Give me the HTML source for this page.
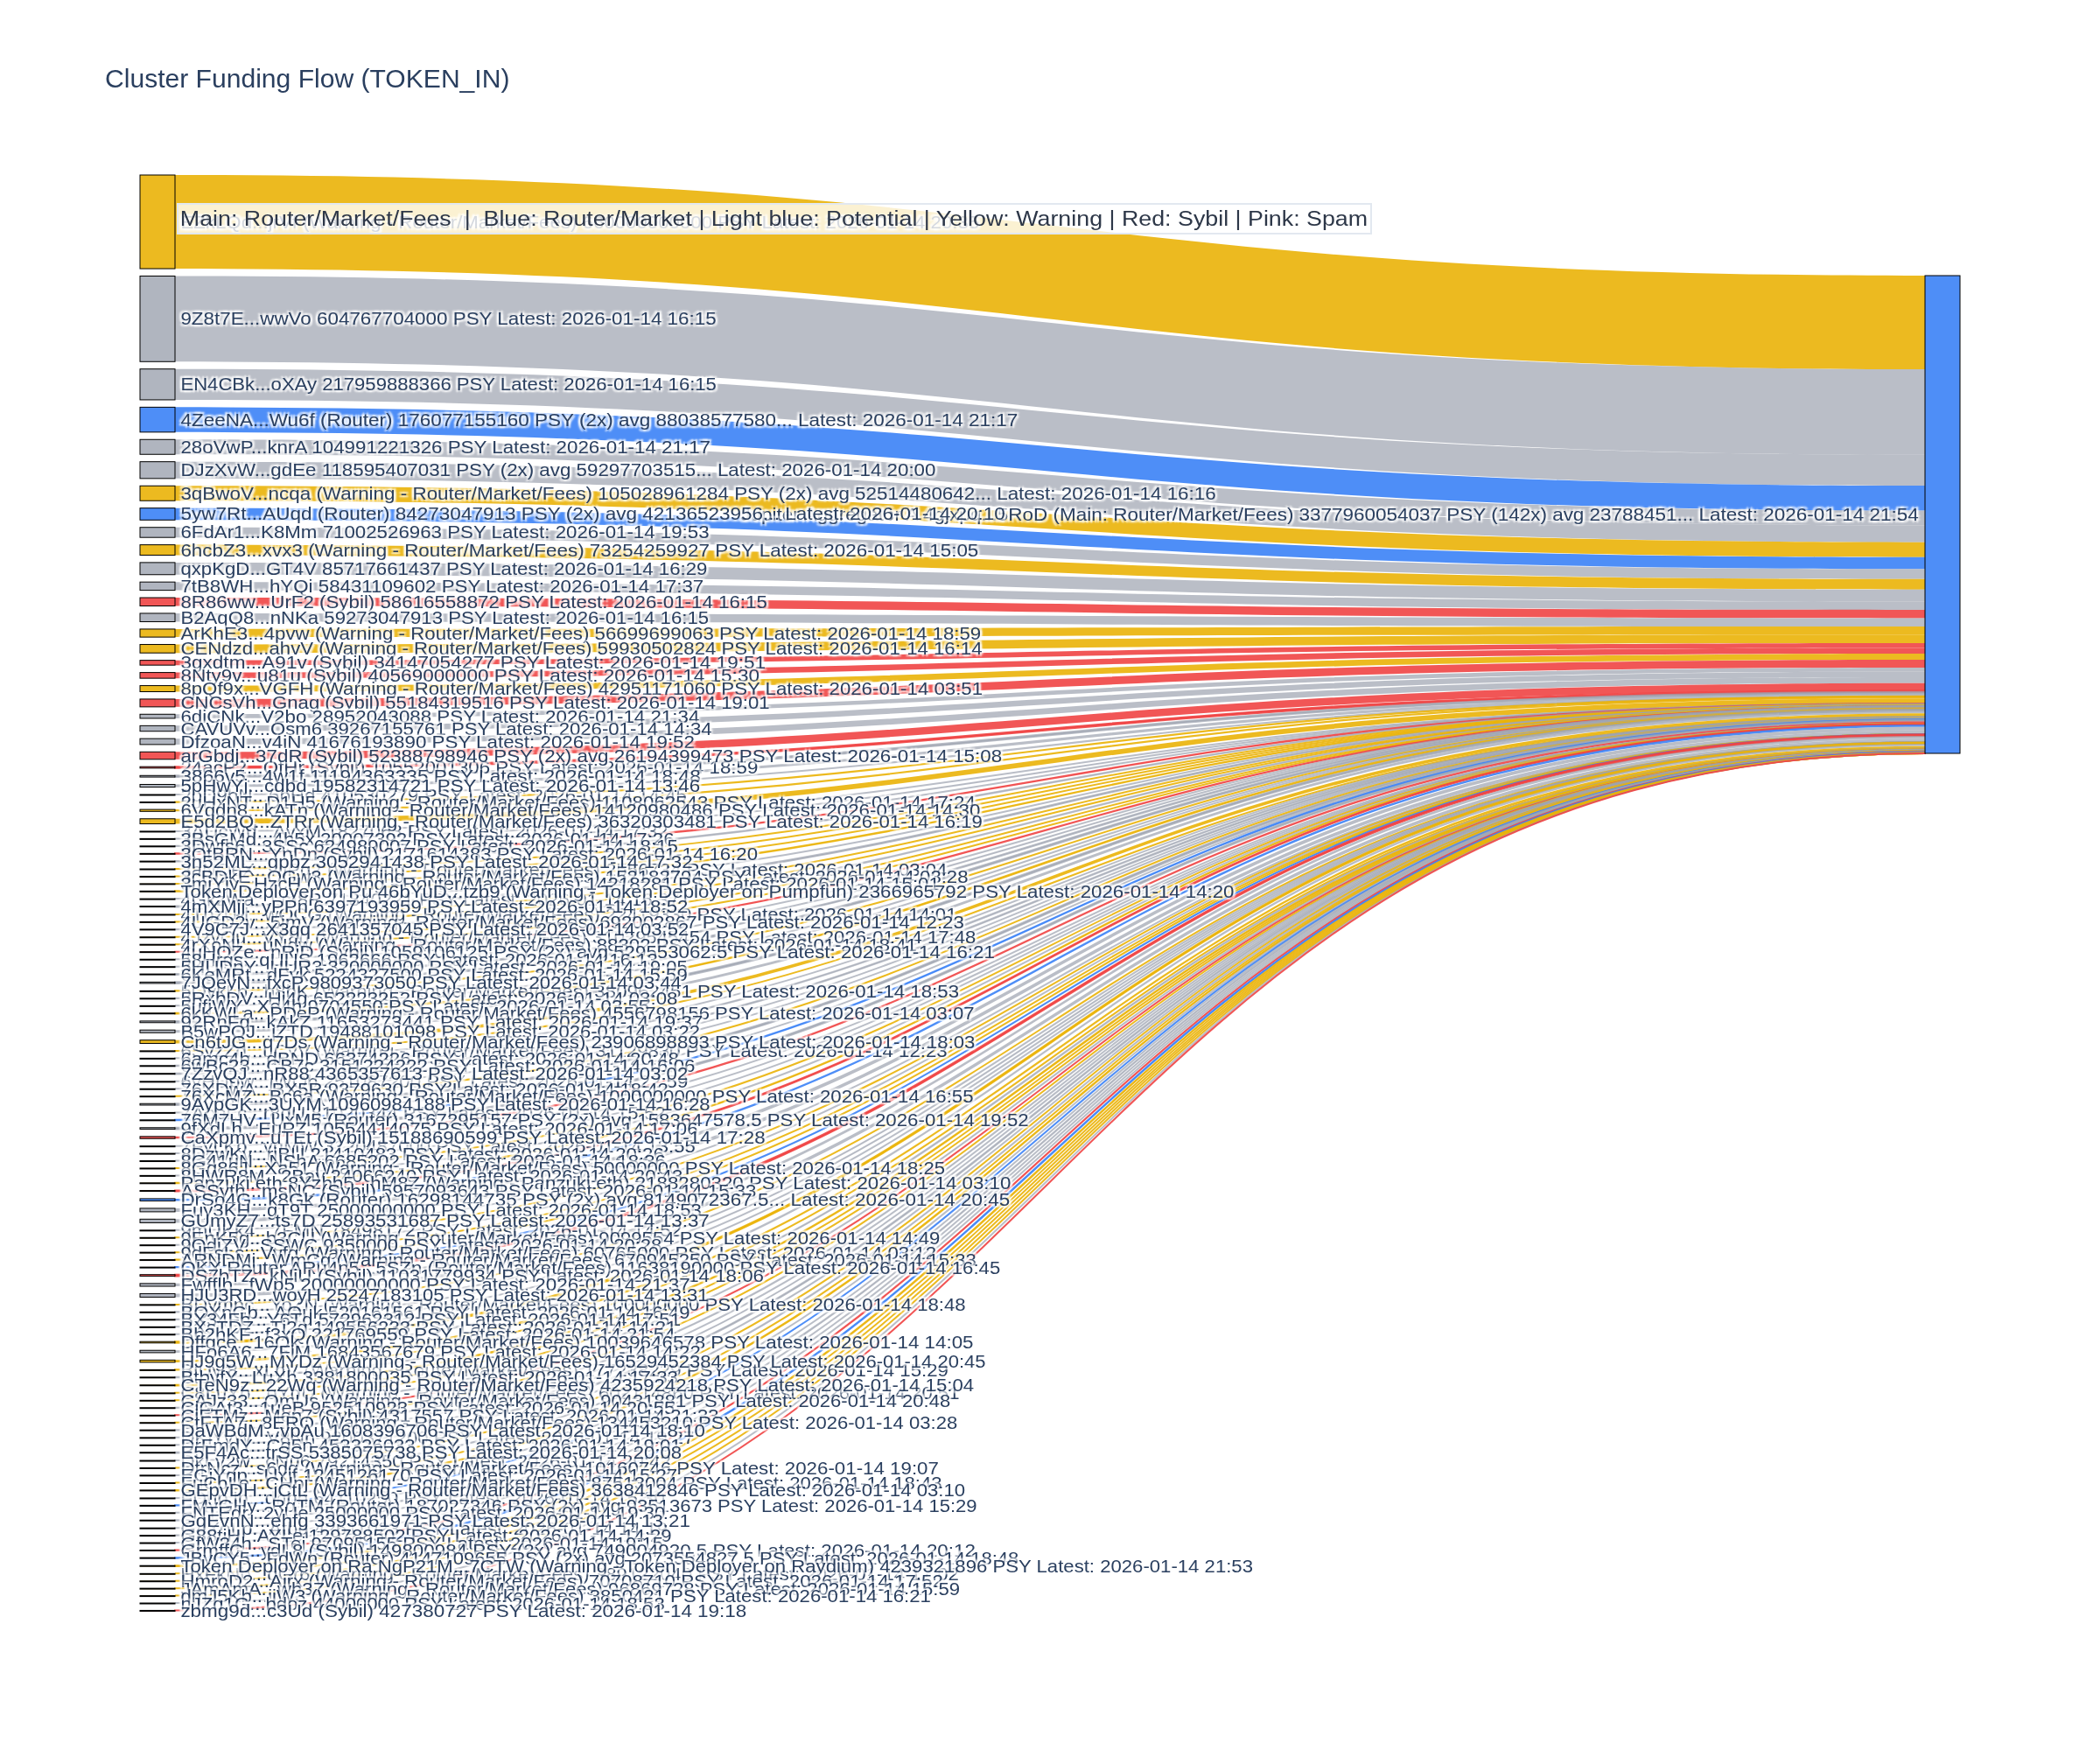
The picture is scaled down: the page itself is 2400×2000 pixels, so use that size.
<!DOCTYPE html>
<html><head><meta charset="utf-8"><title>Cluster Funding Flow</title>
<style>
html,body{margin:0;padding:0;background:#fff}
svg{display:block;will-change:transform}
text{font-family:"Liberation Sans",sans-serif;white-space:pre}
.nl{font-size:20.3px;fill:#2a3f5f;text-shadow:2px 2px 2px #fff,-2px -2px 2px #fff,2px -2px 2px #fff,-2px 2px 2px #fff}
rect{stroke:#000;stroke-width:1}
.nW{fill:rgba(234,179,8,0.9)}
.lW{fill:rgba(234,179,8,0.9)}
.lW.t{stroke:rgba(234,179,8,0.9);stroke-width:2}
.nN{fill:rgba(156,163,175,0.8)}
.lN{fill:rgba(156,163,175,0.7)}
.lN.t{stroke:rgba(156,163,175,0.7);stroke-width:2}
.nR{fill:rgba(59,130,246,0.9)}
.lR{fill:rgba(59,130,246,0.9)}
.lR.t{stroke:rgba(59,130,246,0.9);stroke-width:2}
.nS{fill:rgba(239,68,68,0.9)}
.lS{fill:rgba(239,68,68,0.9)}
.lS.t{stroke:rgba(239,68,68,0.9);stroke-width:2}
</style></head>
<body>
<svg width="2400" height="2000" viewBox="0 0 2400 2000">
<rect x="0" y="0" width="2400" height="2000" style="fill:#fff;stroke:none"/>
<g id="links">
<path class="lW" d="M200,200C1200,200 1200,315 2200,315L2200,422.06C1200,422.06 1200,307.06 200,307.06Z"/>
<path class="lN" d="M200,315.48C1200,315.48 1200,422.06 2200,422.06L2200,519.87C1200,519.87 1200,413.28 200,413.28Z"/>
<path class="lN" d="M200,421.7C1200,421.7 1200,519.87 2200,519.87L2200,555.11C1200,555.11 1200,456.95 200,456.95Z"/>
<path class="lR" d="M200,465.37C1200,465.37 1200,555.11 2200,555.11L2200,583.59C1200,583.59 1200,493.85 200,493.85Z"/>
<path class="lN" d="M200,502.27C1200,502.27 1200,583.59 2200,583.59L2200,600.57C1200,600.57 1200,519.25 200,519.25Z"/>
<path class="lN" d="M200,527.67C1200,527.67 1200,600.57 2200,600.57L2200,619.75C1200,619.75 1200,546.85 200,546.85Z"/>
<path class="lW" d="M200,555.26C1200,555.26 1200,619.75 2200,619.75L2200,636.73C1200,636.73 1200,572.25 200,572.25Z"/>
<path class="lR" d="M200,580.67C1200,580.67 1200,636.73 2200,636.73L2200,650.36C1200,650.36 1200,594.3 200,594.3Z"/>
<path class="lN" d="M200,602.72C1200,602.72 1200,650.36 2200,650.36L2200,661.85C1200,661.85 1200,614.2 200,614.2Z"/>
<path class="lW" d="M200,622.62C1200,622.62 1200,661.85 2200,661.85L2200,673.69C1200,673.69 1200,634.47 200,634.47Z"/>
<path class="lN" d="M200,642.89C1200,642.89 1200,673.69 2200,673.69L2200,687.56C1200,687.56 1200,656.75 200,656.75Z"/>
<path class="lN" d="M200,665.17C1200,665.17 1200,687.56 2200,687.56L2200,697.01C1200,697.01 1200,674.62 200,674.62Z"/>
<path class="lS" d="M200,683.04C1200,683.04 1200,697.01 2200,697.01L2200,706.49C1200,706.49 1200,692.52 200,692.52Z"/>
<path class="lN" d="M200,700.94C1200,700.94 1200,706.49 2200,706.49L2200,716.07C1200,716.07 1200,710.52 200,710.52Z"/>
<path class="lW" d="M200,718.94C1200,718.94 1200,716.07 2200,716.07L2200,725.24C1200,725.24 1200,728.11 200,728.11Z"/>
<path class="lW" d="M200,736.53C1200,736.53 1200,725.24 2200,725.24L2200,734.93C1200,734.93 1200,746.22 200,746.22Z"/>
<path class="lS" d="M200,754.64C1200,754.64 1200,734.93 2200,734.93L2200,740.45C1200,740.45 1200,760.16 200,760.16Z"/>
<path class="lS" d="M200,768.58C1200,768.58 1200,740.45 2200,740.45L2200,747.02C1200,747.02 1200,775.14 200,775.14Z"/>
<path class="lW" d="M200,783.56C1200,783.56 1200,747.02 2200,747.02L2200,753.96C1200,753.96 1200,790.51 200,790.51Z"/>
<path class="lS" d="M200,798.93C1200,798.93 1200,753.96 2200,753.96L2200,762.89C1200,762.89 1200,807.85 200,807.85Z"/>
<path class="lN" d="M200,816.27C1200,816.27 1200,762.89 2200,762.89L2200,767.57C1200,767.57 1200,820.95 200,820.95Z"/>
<path class="lN" d="M200,829.37C1200,829.37 1200,767.57 2200,767.57L2200,773.92C1200,773.92 1200,835.72 200,835.72Z"/>
<path class="lN" d="M200,844.14C1200,844.14 1200,773.92 2200,773.92L2200,780.66C1200,780.66 1200,850.88 200,850.88Z"/>
<path class="lS" d="M200,859.3C1200,859.3 1200,780.66 2200,780.66L2200,789.13C1200,789.13 1200,867.77 200,867.77Z"/>
<path class="lS t" d="M200,876.19C1200,876.19 1200,789.13 2200,789.13L2200,790.81C1200,790.81 1200,877.87 200,877.87Z"/>
<path class="lN t" d="M200,886.29C1200,886.29 1200,790.81 2200,790.81L2200,792.58C1200,792.58 1200,888.06 200,888.06Z"/>
<path class="lN" d="M200,896.48C1200,896.48 1200,792.58 2200,792.58L2200,795.69C1200,795.69 1200,899.59 200,899.59Z"/>
<path class="lN t" d="M200,908.01C1200,908.01 1200,795.69 2200,795.69L2200,795.75C1200,795.75 1200,908.07 200,908.07Z"/>
<path class="lW t" d="M200,916.49C1200,916.49 1200,795.75 2200,795.75L2200,795.93C1200,795.93 1200,916.67 200,916.67Z"/>
<path class="lW" d="M200,925.09C1200,925.09 1200,795.93 2200,795.93L2200,798.17C1200,798.17 1200,927.33 200,927.33Z"/>
<path class="lW" d="M200,935.75C1200,935.75 1200,798.17 2200,798.17L2200,803.93C1200,803.93 1200,941.51 200,941.51Z"/>
<path class="lN t" d="M200,949.93C1200,949.93 1200,803.93 2200,803.93L2200,803.96C1200,803.96 1200,949.96 200,949.96Z"/>
<path class="lN t" d="M200,958.38C1200,958.38 1200,803.96 2200,803.96L2200,803.99C1200,803.99 1200,958.41 200,958.41Z"/>
<path class="lN t" d="M200,966.83C1200,966.83 1200,803.99 2200,803.99L2200,804.09C1200,804.09 1200,966.93 200,966.93Z"/>
<path class="lS t" d="M200,975.35C1200,975.35 1200,804.09 2200,804.09L2200,804.44C1200,804.44 1200,975.69 200,975.69Z"/>
<path class="lN t" d="M200,984.11C1200,984.11 1200,804.44 2200,804.44L2200,804.92C1200,804.92 1200,984.59 200,984.59Z"/>
<path class="lW t" d="M200,993.01C1200,993.01 1200,804.92 2200,804.92L2200,804.92C1200,804.92 1200,993.02 200,993.02Z"/>
<path class="lW t" d="M200,1001.44C1200,1001.44 1200,804.92 2200,804.92L2200,804.95C1200,804.95 1200,1001.46 200,1001.46Z"/>
<path class="lW t" d="M200,1009.88C1200,1009.88 1200,804.95 2200,804.95L2200,804.95C1200,804.95 1200,1009.88 200,1009.88Z"/>
<path class="lW t" d="M200,1018.3C1200,1018.3 1200,804.95 2200,804.95L2200,805.33C1200,805.33 1200,1018.68 200,1018.68Z"/>
<path class="lN t" d="M200,1027.1C1200,1027.1 1200,805.33 2200,805.33L2200,805.34C1200,805.34 1200,1027.11 200,1027.11Z"/>
<path class="lN t" d="M200,1035.53C1200,1035.53 1200,805.34 2200,805.34L2200,806.35C1200,806.35 1200,1036.54 200,1036.54Z"/>
<path class="lW t" d="M200,1044.96C1200,1044.96 1200,806.35 2200,806.35L2200,806.36C1200,806.36 1200,1044.96 200,1044.96Z"/>
<path class="lW t" d="M200,1053.38C1200,1053.38 1200,806.36 2200,806.36L2200,806.47C1200,806.47 1200,1053.49 200,1053.49Z"/>
<path class="lN t" d="M200,1061.91C1200,1061.91 1200,806.47 2200,806.47L2200,806.89C1200,806.89 1200,1062.33 200,1062.33Z"/>
<path class="lW t" d="M200,1070.75C1200,1070.75 1200,806.89 2200,806.89L2200,806.93C1200,806.93 1200,1070.8 200,1070.8Z"/>
<path class="lW t" d="M200,1079.22C1200,1079.22 1200,806.93 2200,806.93L2200,806.93C1200,806.93 1200,1079.22 200,1079.22Z"/>
<path class="lS t" d="M200,1087.64C1200,1087.64 1200,806.93 2200,806.93L2200,807.1C1200,807.1 1200,1087.81 200,1087.81Z"/>
<path class="lN t" d="M200,1096.23C1200,1096.23 1200,807.1 2200,807.1L2200,807.1C1200,807.1 1200,1096.23 200,1096.23Z"/>
<path class="lN t" d="M200,1104.65C1200,1104.65 1200,807.1 2200,807.1L2200,807.15C1200,807.15 1200,1104.7 200,1104.7Z"/>
<path class="lN t" d="M200,1113.12C1200,1113.12 1200,807.15 2200,807.15L2200,807.98C1200,807.98 1200,1113.94 200,1113.94Z"/>
<path class="lN t" d="M200,1122.36C1200,1122.36 1200,807.98 2200,807.98L2200,809.54C1200,809.54 1200,1123.92 200,1123.92Z"/>
<path class="lW t" d="M200,1132.34C1200,1132.34 1200,809.54 2200,809.54L2200,809.6C1200,809.6 1200,1132.4 200,1132.4Z"/>
<path class="lN t" d="M200,1140.82C1200,1140.82 1200,809.6 2200,809.6L2200,809.7C1200,809.7 1200,1140.92 200,1140.92Z"/>
<path class="lN t" d="M200,1149.34C1200,1149.34 1200,809.7 2200,809.7L2200,809.7C1200,809.7 1200,1149.34 200,1149.34Z"/>
<path class="lW t" d="M200,1157.76C1200,1157.76 1200,809.7 2200,809.7L2200,810.43C1200,810.43 1200,1158.49 200,1158.49Z"/>
<path class="lN t" d="M200,1166.9C1200,1166.9 1200,810.43 2200,810.43L2200,812.28C1200,812.28 1200,1168.75 200,1168.75Z"/>
<path class="lN" d="M200,1177.17C1200,1177.17 1200,812.28 2200,812.28L2200,815.37C1200,815.37 1200,1180.26 200,1180.26Z"/>
<path class="lW" d="M200,1188.68C1200,1188.68 1200,815.37 2200,815.37L2200,819.16C1200,819.16 1200,1192.48 200,1192.48Z"/>
<path class="lW t" d="M200,1200.9C1200,1200.9 1200,819.16 2200,819.16L2200,819.21C1200,819.21 1200,1200.94 200,1200.94Z"/>
<path class="lN t" d="M200,1209.36C1200,1209.36 1200,819.21 2200,819.21L2200,819.22C1200,819.22 1200,1209.37 200,1209.37Z"/>
<path class="lN t" d="M200,1217.79C1200,1217.79 1200,819.22 2200,819.22L2200,819.72C1200,819.72 1200,1218.29 200,1218.29Z"/>
<path class="lN t" d="M200,1226.71C1200,1226.71 1200,819.72 2200,819.72L2200,820.41C1200,820.41 1200,1227.41 200,1227.41Z"/>
<path class="lN t" d="M200,1235.82C1200,1235.82 1200,820.41 2200,820.41L2200,820.42C1200,820.42 1200,1235.83 200,1235.83Z"/>
<path class="lN t" d="M200,1244.25C1200,1244.25 1200,820.42 2200,820.42L2200,820.42C1200,820.42 1200,1244.25 200,1244.25Z"/>
<path class="lW t" d="M200,1252.67C1200,1252.67 1200,820.42 2200,820.42L2200,820.58C1200,820.58 1200,1252.83 200,1252.83Z"/>
<path class="lN t" d="M200,1261.25C1200,1261.25 1200,820.58 2200,820.58L2200,822.32C1200,822.32 1200,1262.99 200,1262.99Z"/>
<path class="lN t" d="M200,1271.4C1200,1271.4 1200,822.32 2200,822.32L2200,822.33C1200,822.33 1200,1271.42 200,1271.42Z"/>
<path class="lR t" d="M200,1279.84C1200,1279.84 1200,822.33 2200,822.33L2200,822.83C1200,822.83 1200,1280.34 200,1280.34Z"/>
<path class="lN t" d="M200,1288.76C1200,1288.76 1200,822.83 2200,822.83L2200,824.51C1200,824.51 1200,1290.43 200,1290.43Z"/>
<path class="lS" d="M200,1298.85C1200,1298.85 1200,824.51 2200,824.51L2200,826.92C1200,826.92 1200,1301.26 200,1301.26Z"/>
<path class="lN t" d="M200,1309.68C1200,1309.68 1200,826.92 2200,826.92L2200,826.92C1200,826.92 1200,1309.69 200,1309.69Z"/>
<path class="lN t" d="M200,1318.11C1200,1318.11 1200,826.92 2200,826.92L2200,826.92C1200,826.92 1200,1318.11 200,1318.11Z"/>
<path class="lN t" d="M200,1326.53C1200,1326.53 1200,826.92 2200,826.92L2200,826.93C1200,826.93 1200,1326.53 200,1326.53Z"/>
<path class="lW t" d="M200,1334.95C1200,1334.95 1200,826.93 2200,826.93L2200,826.93C1200,826.93 1200,1334.96 200,1334.96Z"/>
<path class="lN t" d="M200,1343.38C1200,1343.38 1200,826.93 2200,826.93L2200,826.94C1200,826.94 1200,1343.38 200,1343.38Z"/>
<path class="lW t" d="M200,1351.8C1200,1351.8 1200,826.94 2200,826.94L2200,827.28C1200,827.28 1200,1352.15 200,1352.15Z"/>
<path class="lS t" d="M200,1360.56C1200,1360.56 1200,827.28 2200,827.28L2200,828.23C1200,828.23 1200,1361.51 200,1361.51Z"/>
<path class="lR" d="M200,1369.93C1200,1369.93 1200,828.23 2200,828.23L2200,830.81C1200,830.81 1200,1372.51 200,1372.51Z"/>
<path class="lN" d="M200,1380.93C1200,1380.93 1200,830.81 2200,830.81L2200,834.78C1200,834.78 1200,1384.9 200,1384.9Z"/>
<path class="lN" d="M200,1393.32C1200,1393.32 1200,834.78 2200,834.78L2200,838.89C1200,838.89 1200,1397.43 200,1397.43Z"/>
<path class="lN t" d="M200,1405.85C1200,1405.85 1200,838.89 2200,838.89L2200,838.9C1200,838.9 1200,1405.86 200,1405.86Z"/>
<path class="lW t" d="M200,1414.28C1200,1414.28 1200,838.9 2200,838.9L2200,838.92C1200,838.92 1200,1414.29 200,1414.29Z"/>
<path class="lN t" d="M200,1422.71C1200,1422.71 1200,838.92 2200,838.92L2200,838.92C1200,838.92 1200,1422.71 200,1422.71Z"/>
<path class="lW t" d="M200,1431.13C1200,1431.13 1200,838.92 2200,838.92L2200,838.93C1200,838.93 1200,1431.14 200,1431.14Z"/>
<path class="lW t" d="M200,1439.56C1200,1439.56 1200,838.93 2200,838.93L2200,839.03C1200,839.03 1200,1439.67 200,1439.67Z"/>
<path class="lR t" d="M200,1448.09C1200,1448.09 1200,839.03 2200,839.03L2200,839.22C1200,839.22 1200,1448.27 200,1448.27Z"/>
<path class="lS t" d="M200,1456.69C1200,1456.69 1200,839.22 2200,839.22L2200,840.97C1200,840.97 1200,1458.44 200,1458.44Z"/>
<path class="lN" d="M200,1466.86C1200,1466.86 1200,840.97 2200,840.97L2200,844.14C1200,844.14 1200,1470.03 200,1470.03Z"/>
<path class="lN" d="M200,1478.45C1200,1478.45 1200,844.14 2200,844.14L2200,848.15C1200,848.15 1200,1482.46 200,1482.46Z"/>
<path class="lW t" d="M200,1490.88C1200,1490.88 1200,848.15 2200,848.15L2200,848.16C1200,848.16 1200,1490.89 200,1490.89Z"/>
<path class="lN t" d="M200,1499.31C1200,1499.31 1200,848.16 2200,848.16L2200,848.25C1200,848.25 1200,1499.4 200,1499.4Z"/>
<path class="lN t" d="M200,1507.81C1200,1507.81 1200,848.25 2200,848.25L2200,848.34C1200,848.34 1200,1507.91 200,1507.91Z"/>
<path class="lN t" d="M200,1516.32C1200,1516.32 1200,848.34 2200,848.34L2200,848.36C1200,848.36 1200,1516.35 200,1516.35Z"/>
<path class="lN t" d="M200,1524.77C1200,1524.77 1200,848.36 2200,848.36L2200,848.4C1200,848.4 1200,1524.8 200,1524.8Z"/>
<path class="lW t" d="M200,1533.22C1200,1533.22 1200,848.4 2200,848.4L2200,849.99C1200,849.99 1200,1534.81 200,1534.81Z"/>
<path class="lN" d="M200,1543.23C1200,1543.23 1200,849.99 2200,849.99L2200,852.66C1200,852.66 1200,1545.91 200,1545.91Z"/>
<path class="lW" d="M200,1554.33C1200,1554.33 1200,852.66 2200,852.66L2200,855.28C1200,855.28 1200,1556.95 200,1556.95Z"/>
<path class="lW t" d="M200,1565.37C1200,1565.37 1200,855.28 2200,855.28L2200,855.31C1200,855.31 1200,1565.4 200,1565.4Z"/>
<path class="lN t" d="M200,1573.81C1200,1573.81 1200,855.31 2200,855.31L2200,855.85C1200,855.85 1200,1574.35 200,1574.35Z"/>
<path class="lW t" d="M200,1582.77C1200,1582.77 1200,855.85 2200,855.85L2200,856.52C1200,856.52 1200,1583.44 200,1583.44Z"/>
<path class="lW t" d="M200,1591.86C1200,1591.86 1200,856.52 2200,856.52L2200,856.53C1200,856.53 1200,1591.87 200,1591.87Z"/>
<path class="lW t" d="M200,1600.29C1200,1600.29 1200,856.53 2200,856.53L2200,856.54C1200,856.54 1200,1600.3 200,1600.3Z"/>
<path class="lN t" d="M200,1608.72C1200,1608.72 1200,856.54 2200,856.54L2200,856.69C1200,856.69 1200,1608.88 200,1608.88Z"/>
<path class="lS t" d="M200,1617.29C1200,1617.29 1200,856.69 2200,856.69L2200,856.7C1200,856.7 1200,1617.3 200,1617.3Z"/>
<path class="lW t" d="M200,1625.72C1200,1625.72 1200,856.7 2200,856.7L2200,856.72C1200,856.72 1200,1625.74 200,1625.74Z"/>
<path class="lN t" d="M200,1634.16C1200,1634.16 1200,856.72 2200,856.72L2200,856.98C1200,856.98 1200,1634.42 200,1634.42Z"/>
<path class="lN t" d="M200,1642.84C1200,1642.84 1200,856.98 2200,856.98L2200,856.99C1200,856.99 1200,1642.85 200,1642.85Z"/>
<path class="lN t" d="M200,1651.27C1200,1651.27 1200,856.99 2200,856.99L2200,857.06C1200,857.06 1200,1651.34 200,1651.34Z"/>
<path class="lN t" d="M200,1659.76C1200,1659.76 1200,857.06 2200,857.06L2200,857.92C1200,857.92 1200,1660.61 200,1660.61Z"/>
<path class="lN t" d="M200,1669.03C1200,1669.03 1200,857.92 2200,857.92L2200,857.93C1200,857.93 1200,1669.05 200,1669.05Z"/>
<path class="lW t" d="M200,1677.47C1200,1677.47 1200,857.93 2200,857.93L2200,857.93C1200,857.93 1200,1677.47 200,1677.47Z"/>
<path class="lN t" d="M200,1685.89C1200,1685.89 1200,857.93 2200,857.93L2200,858.13C1200,858.13 1200,1686.08 200,1686.08Z"/>
<path class="lW t" d="M200,1694.5C1200,1694.5 1200,858.13 2200,858.13L2200,858.13C1200,858.13 1200,1694.5 200,1694.5Z"/>
<path class="lW t" d="M200,1702.92C1200,1702.92 1200,858.13 2200,858.13L2200,858.71C1200,858.71 1200,1703.5 200,1703.5Z"/>
<path class="lN t" d="M200,1711.92C1200,1711.92 1200,858.71 2200,858.71L2200,858.72C1200,858.72 1200,1711.93 200,1711.93Z"/>
<path class="lR t" d="M200,1720.35C1200,1720.35 1200,858.72 2200,858.72L2200,858.75C1200,858.75 1200,1720.38 200,1720.38Z"/>
<path class="lN t" d="M200,1728.8C1200,1728.8 1200,858.75 2200,858.75L2200,858.75C1200,858.75 1200,1728.8 200,1728.8Z"/>
<path class="lN t" d="M200,1737.22C1200,1737.22 1200,858.75 2200,858.75L2200,859.29C1200,859.29 1200,1737.76 200,1737.76Z"/>
<path class="lN t" d="M200,1746.18C1200,1746.18 1200,859.29 2200,859.29L2200,859.3C1200,859.3 1200,1746.19 200,1746.19Z"/>
<path class="lN t" d="M200,1754.61C1200,1754.61 1200,859.3 2200,859.3L2200,859.32C1200,859.32 1200,1754.63 200,1754.63Z"/>
<path class="lN t" d="M200,1763.05C1200,1763.05 1200,859.32 2200,859.32L2200,859.33C1200,859.33 1200,1763.06 200,1763.06Z"/>
<path class="lS t" d="M200,1771.48C1200,1771.48 1200,859.33 2200,859.33L2200,859.57C1200,859.57 1200,1771.72 200,1771.72Z"/>
<path class="lR t" d="M200,1780.14C1200,1780.14 1200,859.57 2200,859.57L2200,860.23C1200,860.23 1200,1780.79 200,1780.79Z"/>
<path class="lW t" d="M200,1789.21C1200,1789.21 1200,860.23 2200,860.23L2200,860.9C1200,860.9 1200,1789.89 200,1789.89Z"/>
<path class="lW t" d="M200,1798.31C1200,1798.31 1200,860.9 2200,860.9L2200,860.91C1200,860.91 1200,1798.31 200,1798.31Z"/>
<path class="lW t" d="M200,1806.73C1200,1806.73 1200,860.91 2200,860.91L2200,860.91C1200,860.91 1200,1806.73 200,1806.73Z"/>
<path class="lW t" d="M200,1815.15C1200,1815.15 1200,860.91 2200,860.91L2200,860.92C1200,860.92 1200,1815.17 200,1815.17Z"/>
<path class="lW t" d="M200,1823.59C1200,1823.59 1200,860.92 2200,860.92L2200,860.93C1200,860.93 1200,1823.59 200,1823.59Z"/>
<path class="lN t" d="M200,1832.01C1200,1832.01 1200,860.93 2200,860.93L2200,860.93C1200,860.93 1200,1832.01 200,1832.01Z"/>
<path class="lS t" d="M200,1840.43C1200,1840.43 1200,860.93 2200,860.93L2200,861C1200,861 1200,1840.5 200,1840.5Z"/>
</g>
<g id="nodes">
<rect class="nS" x="160" y="876.19" width="40" height="1.67"/><text class="nl" x="206.4" y="884.03" textLength="659.97" lengthAdjust="spacingAndGlyphs">24acP2...QfHr (Sybil) 10552001306 PSY Latest: 2026-01-14 18:59</text>
<rect class="nN" x="160" y="908.01" width="40" height="1"/><text class="nl" x="206.4" y="915.51" textLength="578.59" lengthAdjust="spacingAndGlyphs">2oD9bN...6bHd 410530279 PSY Latest: 2026-01-14 14:45</text>
<rect class="nN" x="160" y="949.93" width="40" height="1"/><text class="nl" x="206.4" y="957.43" textLength="557.22" lengthAdjust="spacingAndGlyphs">3AUcWd...AvxM 1827063 PSY Latest: 2026-01-14 17:32</text>
<rect class="nW" x="160" y="993.01" width="40" height="1"/><text class="nl" x="206.4" y="1000.51" textLength="875.97" lengthAdjust="spacingAndGlyphs">3aNQeX...mPq2 (Warning - Router/Market/Fees) 2556734 PSY Latest: 2026-01-14 03:04</text>
<rect class="nN" x="160" y="1027.1" width="40" height="1"/><text class="nl" x="206.4" y="1034.6" textLength="570.23" lengthAdjust="spacingAndGlyphs">4GkzWa...Lm8R 71840221 PSY Latest: 2026-01-14 16:37</text>
<rect class="nW" x="160" y="1044.96" width="40" height="1"/><text class="nl" x="206.4" y="1052.46" textLength="887.08" lengthAdjust="spacingAndGlyphs">4TpzUd...wQCG (Warning - Router/Market/Fees) 22419330 PSY Latest: 2026-01-14 14:01</text>
<rect class="nW" x="160" y="1070.75" width="40" height="1"/><text class="nl" x="206.4" y="1078.25" textLength="908.89" lengthAdjust="spacingAndGlyphs">4JzvQu...VY8d (Warning - Router/Market/Fees) 31029545454 PSY Latest: 2026-01-14 17:48</text>
<rect class="nW" x="160" y="1132.34" width="40" height="1"/><text class="nl" x="206.4" y="1139.84" textLength="889.67" lengthAdjust="spacingAndGlyphs">5QvkLb...h8bK (Warning - Router/Market/Fees) 380962451 PSY Latest: 2026-01-14 18:53</text>
<rect class="nW" x="160" y="1200.9" width="40" height="1"/><text class="nl" x="206.4" y="1208.4" textLength="876.36" lengthAdjust="spacingAndGlyphs">6SvzZd...uCyV (Warning - Router/Market/Fees) 31129830 PSY Latest: 2026-01-14 12:23</text>
<rect class="nN" x="160" y="1235.82" width="40" height="1"/><text class="nl" x="206.4" y="1243.32" textLength="579.95" lengthAdjust="spacingAndGlyphs">6yHUpw...jWQb 251087200 PSY Latest: 2026-01-14 22:59</text>
<rect class="nN" x="160" y="1271.4" width="40" height="1"/><text class="nl" x="206.4" y="1278.9" textLength="554.19" lengthAdjust="spacingAndGlyphs">7AbpLc...r8qU 81020344 PSY Latest: 2026-01-14 15:52</text>
<rect class="nN" x="160" y="1309.68" width="40" height="1"/><text class="nl" x="206.4" y="1317.18" textLength="588.31" lengthAdjust="spacingAndGlyphs">7FyLKo...vnMW 3120487000 PSY Latest: 2026-01-14 13:55</text>
<rect class="nN" x="160" y="1405.85" width="40" height="1"/><text class="nl" x="206.4" y="1413.35" textLength="572.64" lengthAdjust="spacingAndGlyphs">9mUKk4...7FMN 78498172 PSY Latest: 2026-01-14 14:52</text>
<rect class="nW" x="160" y="1490.88" width="40" height="1"/><text class="nl" x="206.4" y="1498.38" textLength="897.33" lengthAdjust="spacingAndGlyphs">BDvmnc...YoZN (Warning - Router/Market/Fees) 100000000 PSY Latest: 2026-01-14 18:48</text>
<rect class="nW" x="160" y="1565.37" width="40" height="1"/><text class="nl" x="206.4" y="1572.87" textLength="877.61" lengthAdjust="spacingAndGlyphs">BjUvf8...xLnV (Warning - Router/Market/Fees) 177238229 PSY Latest: 2026-01-14 15:29</text>
<rect class="nW" x="160" y="1591.86" width="40" height="1"/><text class="nl" x="206.4" y="1599.36" textLength="890.08" lengthAdjust="spacingAndGlyphs">C8LuYb...qYdU (Warning - Router/Market/Fees) 602114860 PSY Latest: 2026-01-14 20:51</text>
<rect class="nN" x="160" y="1642.84" width="40" height="1"/><text class="nl" x="206.4" y="1650.34" textLength="587.06" lengthAdjust="spacingAndGlyphs">DKjYvW...V8Nh 9200371200 PSY Latest: 2026-01-14 19:27</text>
<rect class="nN" x="160" y="1669.03" width="40" height="1"/><text class="nl" x="206.4" y="1676.53" textLength="560.53" lengthAdjust="spacingAndGlyphs">DkLv2w...cNu6 79214350 PSY Latest: 2026-01-14 20:42</text>
<rect class="nN" x="160" y="1711.92" width="40" height="1"/><text class="nl" x="206.4" y="1719.42" textLength="553.56" lengthAdjust="spacingAndGlyphs">FDhpJn...dhbh 64110250 PSY Latest: 2026-01-14 15:30</text>
<rect class="nN" x="160" y="1746.18" width="40" height="1"/><text class="nl" x="206.4" y="1753.68" textLength="556.55" lengthAdjust="spacingAndGlyphs">G4XoLp...Atbq 42611023 PSY Latest: 2026-01-14 14:19</text>
<rect class="nW" x="160" y="1798.31" width="40" height="1"/><text class="nl" x="206.4" y="1805.81" textLength="889.52" lengthAdjust="spacingAndGlyphs">HxFkNb...qGr6 (Warning - Router/Market/Fees) 389122040 PSY Latest: 2026-01-14 17:02</text>
<rect class="nR" x="2200" y="315" width="40" height="546"/><text class="nl" x="2192.8" y="595" text-anchor="end" textLength="1346.58" lengthAdjust="spacingAndGlyphs">Jupiter Aggregator A 4gjxpq...5RoD (Main: Router/Market/Fees) 3377960054037 PSY (142x) avg 23788451... Latest: 2026-01-14 21:54</text>
<rect class="nW" x="160" y="200" width="40" height="107.06"/><text class="nl" x="206.4" y="260.53" textLength="912.92" lengthAdjust="spacingAndGlyphs">EZkLQd...jrVf (Warning - Router/Market/Fees) 660000000000 PSY Latest: 2026-01-14 20:35</text>
<rect class="nN" x="160" y="315.48" width="40" height="97.8"/><text class="nl" x="206.4" y="371.38" textLength="612.27" lengthAdjust="spacingAndGlyphs">9Z8t7E...wwVo 604767704000 PSY Latest: 2026-01-14 16:15</text>
<rect class="nN" x="160" y="421.7" width="40" height="35.25"/><text class="nl" x="206.4" y="446.33" textLength="612.53" lengthAdjust="spacingAndGlyphs">EN4CBk...oXAy 217959888366 PSY Latest: 2026-01-14 16:15</text>
<rect class="nR" x="160" y="465.37" width="40" height="28.48"/><text class="nl" x="206.4" y="486.61" textLength="956.94" lengthAdjust="spacingAndGlyphs">4ZeeNA...Wu6f (Router) 176077155160 PSY (2x) avg 88038577580... Latest: 2026-01-14 21:17</text>
<rect class="nN" x="160" y="502.27" width="40" height="16.98"/><text class="nl" x="206.4" y="517.76" textLength="605.66" lengthAdjust="spacingAndGlyphs">28oVwP...knrA 104991221326 PSY Latest: 2026-01-14 21:17</text>
<rect class="nN" x="160" y="527.67" width="40" height="19.18"/><text class="nl" x="206.4" y="544.26" textLength="863.05" lengthAdjust="spacingAndGlyphs">DJzXvW...gdEe 118595407031 PSY (2x) avg 59297703515... Latest: 2026-01-14 20:00</text>
<rect class="nW" x="160" y="555.26" width="40" height="16.99"/><text class="nl" x="206.4" y="570.76" textLength="1183.38" lengthAdjust="spacingAndGlyphs">3qBwoV...ncqa (Warning - Router/Market/Fees) 105028961284 PSY (2x) avg 52514480642... Latest: 2026-01-14 16:16</text>
<rect class="nR" x="160" y="580.67" width="40" height="13.63"/><text class="nl" x="206.4" y="594.48" textLength="942.47" lengthAdjust="spacingAndGlyphs">5yw7Rt...AUqd (Router) 84273047913 PSY (2x) avg 42136523956... Latest: 2026-01-14 20:10</text>
<rect class="nN" x="160" y="602.72" width="40" height="11.48"/><text class="nl" x="206.4" y="615.46" textLength="604.22" lengthAdjust="spacingAndGlyphs">6FdAr1...K8Mm 71002526963 PSY Latest: 2026-01-14 19:53</text>
<rect class="nW" x="160" y="622.62" width="40" height="11.85"/><text class="nl" x="206.4" y="635.54" textLength="911.94" lengthAdjust="spacingAndGlyphs">6hcbZ3...xvx3 (Warning - Router/Market/Fees) 73254259927 PSY Latest: 2026-01-14 15:05</text>
<rect class="nN" x="160" y="642.89" width="40" height="13.86"/><text class="nl" x="206.4" y="656.82" textLength="601.98" lengthAdjust="spacingAndGlyphs">qxpKgD...GT4V 85717661437 PSY Latest: 2026-01-14 16:29</text>
<rect class="nN" x="160" y="665.17" width="40" height="9.45"/><text class="nl" x="206.4" y="676.89" textLength="597.8" lengthAdjust="spacingAndGlyphs">7tB8WH...hYQi 58431109602 PSY Latest: 2026-01-14 17:37</text>
<rect class="nS" x="160" y="683.04" width="40" height="9.48"/><text class="nl" x="206.4" y="694.78" textLength="670.45" lengthAdjust="spacingAndGlyphs">8R86ww...UrF2 (Sybil) 58616558872 PSY Latest: 2026-01-14 16:15</text>
<rect class="nN" x="160" y="700.94" width="40" height="9.59"/><text class="nl" x="206.4" y="712.73" textLength="603.72" lengthAdjust="spacingAndGlyphs">B2AqQ8...nNKa 59273047913 PSY Latest: 2026-01-14 16:15</text>
<rect class="nW" x="160" y="718.94" width="40" height="9.17"/><text class="nl" x="206.4" y="730.52" textLength="914.84" lengthAdjust="spacingAndGlyphs">ArKhE3...4pvw (Warning - Router/Market/Fees) 56699699063 PSY Latest: 2026-01-14 18:59</text>
<rect class="nW" x="160" y="736.53" width="40" height="9.69"/><text class="nl" x="206.4" y="748.38" textLength="916.11" lengthAdjust="spacingAndGlyphs">CENdzd...ahvV (Warning - Router/Market/Fees) 59930502824 PSY Latest: 2026-01-14 16:14</text>
<rect class="nS" x="160" y="754.64" width="40" height="5.52"/><text class="nl" x="206.4" y="764.4" textLength="668.7" lengthAdjust="spacingAndGlyphs">3gxdtm...A91v (Sybil) 34147054277 PSY Latest: 2026-01-14 19:51</text>
<rect class="nS" x="160" y="768.58" width="40" height="6.56"/><text class="nl" x="206.4" y="778.86" textLength="661.61" lengthAdjust="spacingAndGlyphs">8Nty9v...u81u (Sybil) 40569000000 PSY Latest: 2026-01-14 15:30</text>
<rect class="nW" x="160" y="783.56" width="40" height="6.95"/><text class="nl" x="206.4" y="794.04" textLength="916.69" lengthAdjust="spacingAndGlyphs">8pQf9x...VGFH (Warning - Router/Market/Fees) 42951171060 PSY Latest: 2026-01-14 03:51</text>
<rect class="nS" x="160" y="798.93" width="40" height="8.92"/><text class="nl" x="206.4" y="810.39" textLength="673.25" lengthAdjust="spacingAndGlyphs">CNCsVh...Gnag (Sybil) 55184319516 PSY Latest: 2026-01-14 19:01</text>
<rect class="nN" x="160" y="816.27" width="40" height="4.68"/><text class="nl" x="206.4" y="825.61" textLength="592.95" lengthAdjust="spacingAndGlyphs">6diCNk...V2bo 28952043088 PSY Latest: 2026-01-14 21:34</text>
<rect class="nN" x="160" y="829.37" width="40" height="6.35"/><text class="nl" x="206.4" y="839.55" textLength="607.17" lengthAdjust="spacingAndGlyphs">CAVUVv...Osm6 39267155761 PSY Latest: 2026-01-14 14:34</text>
<rect class="nN" x="160" y="844.14" width="40" height="6.74"/><text class="nl" x="206.4" y="854.51" textLength="587.61" lengthAdjust="spacingAndGlyphs">DfzoaN...v4iN 41676193890 PSY Latest: 2026-01-14 19:52</text>
<rect class="nS" x="160" y="859.3" width="40" height="8.47"/><text class="nl" x="206.4" y="870.54" textLength="938.69" lengthAdjust="spacingAndGlyphs">arGbdj...37dR (Sybil) 52388798946 PSY (2x) avg 26194399473 PSY Latest: 2026-01-14 15:08</text>
<rect class="nN" x="160" y="886.29" width="40" height="1.78"/><text class="nl" x="206.4" y="894.17" textLength="594.39" lengthAdjust="spacingAndGlyphs">3866v5...4w1f 11194363335 PSY Latest: 2026-01-14 18:48</text>
<rect class="nN" x="160" y="896.48" width="40" height="3.11"/><text class="nl" x="206.4" y="905.04" textLength="593.83" lengthAdjust="spacingAndGlyphs">5pHwYj...cdbd 19582314721 PSY Latest: 2026-01-14 13:46</text>
<rect class="nW" x="160" y="916.49" width="40" height="1"/><text class="nl" x="206.4" y="923.99" textLength="908.44" lengthAdjust="spacingAndGlyphs">2uHxNT...D1H5 (Warning - Router/Market/Fees) 1108062543 PSY Latest: 2026-01-14 17:24</text>
<rect class="nW" x="160" y="925.09" width="40" height="2.24"/><text class="nl" x="206.4" y="933.21" textLength="913.98" lengthAdjust="spacingAndGlyphs">6Vqdn8...kATn (Warning - Router/Market/Fees) 14120980486 PSY Latest: 2026-01-14 14:30</text>
<rect class="nW" x="160" y="935.75" width="40" height="5.76"/><text class="nl" x="206.4" y="945.63" textLength="916.45" lengthAdjust="spacingAndGlyphs">E5d2BQ...ZTRr (Warning - Router/Market/Fees) 36320303481 PSY Latest: 2026-01-14 16:19</text>
<rect class="nN" x="160" y="958.38" width="40" height="1"/><text class="nl" x="206.4" y="965.88" textLength="564.22" lengthAdjust="spacingAndGlyphs">3BsGMd...4h5x 20007392 PSY Latest: 2026-01-14 17:26</text>
<rect class="nN" x="160" y="966.83" width="40" height="1"/><text class="nl" x="206.4" y="974.33" textLength="568.47" lengthAdjust="spacingAndGlyphs">3Dwfs6...3SSc 624989007 PSY Latest: 2026-01-14 18:15</text>
<rect class="nS" x="160" y="975.35" width="40" height="1"/><text class="nl" x="206.4" y="982.85" textLength="659.58" lengthAdjust="spacingAndGlyphs">3QtBRN...YnDn (Sybil) 2171614383 PSY Latest: 2026-01-14 16:20</text>
<rect class="nN" x="160" y="984.11" width="40" height="1"/><text class="nl" x="206.4" y="991.61" textLength="585.22" lengthAdjust="spacingAndGlyphs">3n52ML...gpbz 3052941438 PSY Latest: 2026-01-14 17:32</text>
<rect class="nW" x="160" y="1001.44" width="40" height="1"/><text class="nl" x="206.4" y="1008.94" textLength="900.12" lengthAdjust="spacingAndGlyphs">3cBDkE...QGw3 (Warning - Router/Market/Fees) 152182794 PSY Latest: 2026-01-14 03:28</text>
<rect class="nW" x="160" y="1009.88" width="40" height="1"/><text class="nl" x="206.4" y="1017.38" textLength="867.45" lengthAdjust="spacingAndGlyphs">3mjYjv...HzcH (Warning - Router/Market/Fees) 14218281 PSY Latest: 2026-01-14 15:01</text>
<rect class="nW" x="160" y="1018.3" width="40" height="1"/><text class="nl" x="206.4" y="1025.8" textLength="1204.11" lengthAdjust="spacingAndGlyphs">Token Deployer on Pu 46bYuD...tzb9 (Warning - Token Deployer on Pumpfun) 2366965792 PSY Latest: 2026-01-14 14:20</text>
<rect class="nN" x="160" y="1035.53" width="40" height="1.01"/><text class="nl" x="206.4" y="1043.03" textLength="579.97" lengthAdjust="spacingAndGlyphs">4mXMjj...yPPn 6397193959 PSY Latest: 2026-01-14 18:52</text>
<rect class="nW" x="160" y="1053.38" width="40" height="1"/><text class="nl" x="206.4" y="1060.88" textLength="895.47" lengthAdjust="spacingAndGlyphs">4UGD2v...5jmV (Warning - Router/Market/Fees) 692002867 PSY Latest: 2026-01-14 12:23</text>
<rect class="nN" x="160" y="1061.91" width="40" height="1"/><text class="nl" x="206.4" y="1069.41" textLength="580.94" lengthAdjust="spacingAndGlyphs">4V9C7J...X3qq 2641357045 PSY Latest: 2026-01-14 03:52</text>
<rect class="nW" x="160" y="1079.22" width="40" height="1"/><text class="nl" x="206.4" y="1086.72" textLength="841.55" lengthAdjust="spacingAndGlyphs">4rXoNL...uNdw (Warning - Router/Market/Fees) 88302 PSY Latest: 2026-01-14 18:41</text>
<rect class="nS" x="160" y="1087.64" width="40" height="1"/><text class="nl" x="206.4" y="1095.14" textLength="930.38" lengthAdjust="spacingAndGlyphs">4uHQZe...nRjD (Sybil) 1059106125 PSY (2x) avg 529553062.5 PSY Latest: 2026-01-14 16:21</text>
<rect class="nN" x="160" y="1096.23" width="40" height="1"/><text class="nl" x="206.4" y="1103.73" textLength="545.41" lengthAdjust="spacingAndGlyphs">58Hrgs...qUUS 1962666 PSY Latest: 2026-01-14 16:13</text>
<rect class="nN" x="160" y="1104.65" width="40" height="1"/><text class="nl" x="206.4" y="1112.15" textLength="579.25" lengthAdjust="spacingAndGlyphs">5HUDpY...UUR3 320000000 PSY Latest: 2026-01-14 19:05</text>
<rect class="nN" x="160" y="1113.12" width="40" height="1"/><text class="nl" x="206.4" y="1120.62" textLength="579.31" lengthAdjust="spacingAndGlyphs">6KeMRt...dFyk 5224327500 PSY Latest: 2026-01-14 15:59</text>
<rect class="nN" x="160" y="1122.36" width="40" height="1.56"/><text class="nl" x="206.4" y="1130.14" textLength="572.5" lengthAdjust="spacingAndGlyphs">7JQeyN...fxcP 9809373050 PSY Latest: 2026-01-14 03:44</text>
<rect class="nN" x="160" y="1140.82" width="40" height="1"/><text class="nl" x="206.4" y="1148.32" textLength="568.03" lengthAdjust="spacingAndGlyphs">5RxbDV...Hj4g 652223252 PSY Latest: 2026-01-14 03:08</text>
<rect class="nN" x="160" y="1149.34" width="40" height="1"/><text class="nl" x="206.4" y="1156.84" textLength="535.7" lengthAdjust="spacingAndGlyphs">5ufjWY...Xe4h 9704550 PSY Latest: 2026-01-14 03:55</text>
<rect class="nW" x="160" y="1157.76" width="40" height="1"/><text class="nl" x="206.4" y="1165.26" textLength="907.16" lengthAdjust="spacingAndGlyphs">6kKWLa...PDeP (Warning - Router/Market/Fees) 4556798156 PSY Latest: 2026-01-14 03:07</text>
<rect class="nN" x="160" y="1166.9" width="40" height="1.85"/><text class="nl" x="206.4" y="1174.83" textLength="596.86" lengthAdjust="spacingAndGlyphs">92RnFq...kAkZ 11653273441 PSY Latest: 2026-01-14 19:37</text>
<rect class="nN" x="160" y="1177.17" width="40" height="3.09"/><text class="nl" x="206.4" y="1185.72" textLength="593.52" lengthAdjust="spacingAndGlyphs">B5wPQJ...jZTD 19488101098 PSY Latest: 2026-01-14 03:22</text>
<rect class="nW" x="160" y="1188.68" width="40" height="3.79"/><text class="nl" x="206.4" y="1197.58" textLength="908.03" lengthAdjust="spacingAndGlyphs">Cn6tJG...q7Ds (Warning - Router/Market/Fees) 23906898893 PSY Latest: 2026-01-14 18:03</text>
<rect class="nN" x="160" y="1209.36" width="40" height="1"/><text class="nl" x="206.4" y="1216.86" textLength="569.62" lengthAdjust="spacingAndGlyphs">6amc4b...dBND 66374226 PSY Latest: 2026-01-14 20:48</text>
<rect class="nN" x="160" y="1217.79" width="40" height="1"/><text class="nl" x="206.4" y="1225.29" textLength="588.03" lengthAdjust="spacingAndGlyphs">6wBc23...CB7c 3151224222 PSY Latest: 2026-01-14 16:06</text>
<rect class="nN" x="160" y="1226.71" width="40" height="1"/><text class="nl" x="206.4" y="1234.21" textLength="579.81" lengthAdjust="spacingAndGlyphs">7ZzvQJ...nR88 4365357613 PSY Latest: 2026-01-14 03:02</text>
<rect class="nN" x="160" y="1244.25" width="40" height="1"/><text class="nl" x="206.4" y="1251.75" textLength="557.52" lengthAdjust="spacingAndGlyphs">76XDwA...BX5R 9379630 PSY Latest: 2026-01-14 18:42</text>
<rect class="nW" x="160" y="1252.67" width="40" height="1"/><text class="nl" x="206.4" y="1260.17" textLength="906.23" lengthAdjust="spacingAndGlyphs">76XcMZ...Bc6a (Warning - Router/Market/Fees) 1000000000 PSY Latest: 2026-01-14 16:55</text>
<rect class="nN" x="160" y="1261.25" width="40" height="1.74"/><text class="nl" x="206.4" y="1269.12" textLength="605.14" lengthAdjust="spacingAndGlyphs">9AypGK...3UYM 10960984188 PSY Latest: 2026-01-14 16:28</text>
<rect class="nR" x="160" y="1279.84" width="40" height="1"/><text class="nl" x="206.4" y="1287.34" textLength="969.28" lengthAdjust="spacingAndGlyphs">76M7HV...UxM5 (Router) 3167295157 PSY (2x) avg 1583647578.5 PSY Latest: 2026-01-14 19:52</text>
<rect class="nN" x="160" y="1288.76" width="40" height="1.67"/><text class="nl" x="206.4" y="1296.6" textLength="591.17" lengthAdjust="spacingAndGlyphs">9fXdLh...EuPZ 10554414075 PSY Latest: 2026-01-14 17:06</text>
<rect class="nS" x="160" y="1298.85" width="40" height="2.41"/><text class="nl" x="206.4" y="1307.06" textLength="668.22" lengthAdjust="spacingAndGlyphs">CaXpmv...uTEt (Sybil) 15188690599 PSY Latest: 2026-01-14 17:28</text>
<rect class="nN" x="160" y="1318.11" width="40" height="1"/><text class="nl" x="206.4" y="1325.61" textLength="552.48" lengthAdjust="spacingAndGlyphs">8DzwKv...rjBU 21410483 PSY Latest: 2026-01-14 20:26</text>
<rect class="nN" x="160" y="1326.53" width="40" height="1"/><text class="nl" x="206.4" y="1334.03" textLength="554.56" lengthAdjust="spacingAndGlyphs">8G41uN...NShA 6685202 PSY Latest: 2026-01-14 18:36</text>
<rect class="nW" x="160" y="1334.95" width="40" height="1"/><text class="nl" x="206.4" y="1342.45" textLength="873.67" lengthAdjust="spacingAndGlyphs">8Gq86J...Xa51 (Warning - Router/Market/Fees) 50000000 PSY Latest: 2026-01-14 18:25</text>
<rect class="nN" x="160" y="1343.38" width="40" height="1"/><text class="nl" x="206.4" y="1350.88" textLength="573.89" lengthAdjust="spacingAndGlyphs">8HWR8M...2Bav 24066240 PSY Latest: 2026-01-14 20:43</text>
<rect class="nW" x="160" y="1351.8" width="40" height="1"/><text class="nl" x="206.4" y="1359.3" textLength="948.97" lengthAdjust="spacingAndGlyphs">Panzuki.eth 8Yzbb5...hM8Z (Warning - Panzuki.eth) 2188280320 PSY Latest: 2026-01-14 03:10</text>
<rect class="nS" x="160" y="1360.56" width="40" height="1"/><text class="nl" x="206.4" y="1368.06" textLength="658.02" lengthAdjust="spacingAndGlyphs">ASSyth...msNC (Sybil) 5957093643 PSY Latest: 2026-01-14 15:33</text>
<rect class="nR" x="160" y="1369.93" width="40" height="2.59"/><text class="nl" x="206.4" y="1378.22" textLength="947.88" lengthAdjust="spacingAndGlyphs">DrSo4G...k8Gk (Router) 16298144735 PSY (2x) avg 8149072367.5... Latest: 2026-01-14 20:45</text>
<rect class="nN" x="160" y="1380.93" width="40" height="3.97"/><text class="nl" x="206.4" y="1389.92" textLength="595.42" lengthAdjust="spacingAndGlyphs">Fuy3KH...gT9T 25000000000 PSY Latest: 2026-01-14 18:53</text>
<rect class="nN" x="160" y="1393.32" width="40" height="4.11"/><text class="nl" x="206.4" y="1402.37" textLength="604.39" lengthAdjust="spacingAndGlyphs">GUmyZ7...ts7D 25893531687 PSY Latest: 2026-01-14 13:37</text>
<rect class="nW" x="160" y="1414.28" width="40" height="1"/><text class="nl" x="206.4" y="1421.78" textLength="867.89" lengthAdjust="spacingAndGlyphs">9EnK5g...b3CU (Warning - Router/Market/Fees) 9099554 PSY Latest: 2026-01-14 14:49</text>
<rect class="nN" x="160" y="1422.71" width="40" height="1"/><text class="nl" x="206.4" y="1430.21" textLength="549.94" lengthAdjust="spacingAndGlyphs">9QdjZV...SSWC 9350000 PSY Latest: 2026-01-14 20:28</text>
<rect class="nW" x="160" y="1431.13" width="40" height="1"/><text class="nl" x="206.4" y="1438.63" textLength="863.67" lengthAdjust="spacingAndGlyphs">9dFsLs...Vyfq (Warning - Router/Market/Fees) 60765000 PSY Latest: 2026-01-14 03:12</text>
<rect class="nW" x="160" y="1439.56" width="40" height="1"/><text class="nl" x="206.4" y="1447.06" textLength="909.44" lengthAdjust="spacingAndGlyphs">ARNDMi...WmCq (Warning - Router/Market/Fees) 670945250 PSY Latest: 2026-01-14 15:33</text>
<rect class="nR" x="160" y="1448.09" width="40" height="1"/><text class="nl" x="206.4" y="1455.59" textLength="936.83" lengthAdjust="spacingAndGlyphs">OKX Router ARu4n5...5SZn (Router/Market/Fees) 11638190000 PSY Latest: 2026-01-14 16:45</text>
<rect class="nS" x="160" y="1456.69" width="40" height="1.75"/><text class="nl" x="206.4" y="1464.57" textLength="666.64" lengthAdjust="spacingAndGlyphs">DS7bTZ...kNiU (Sybil) 11031779934 PSY Latest: 2026-01-14 18:06</text>
<rect class="nN" x="160" y="1466.86" width="40" height="3.17"/><text class="nl" x="206.4" y="1475.45" textLength="582.27" lengthAdjust="spacingAndGlyphs">Fwfflb...fWp5 20000000000 PSY Latest: 2026-01-14 21:37</text>
<rect class="nN" x="160" y="1478.45" width="40" height="4.01"/><text class="nl" x="206.4" y="1487.46" textLength="603.2" lengthAdjust="spacingAndGlyphs">HJU3RD...woyH 25247183105 PSY Latest: 2026-01-14 13:31</text>
<rect class="nN" x="160" y="1499.31" width="40" height="1"/><text class="nl" x="206.4" y="1506.81" textLength="582.06" lengthAdjust="spacingAndGlyphs">BQXnGb...AQuk 520161561 PSY Latest: 2026-01-14 16:49</text>
<rect class="nN" x="160" y="1507.81" width="40" height="1"/><text class="nl" x="206.4" y="1515.31" textLength="571.59" lengthAdjust="spacingAndGlyphs">BX34Fb...Y6Td 572962312 PSY Latest: 2026-01-14 17:51</text>
<rect class="nN" x="160" y="1516.32" width="40" height="1"/><text class="nl" x="206.4" y="1523.82" textLength="567.05" lengthAdjust="spacingAndGlyphs">BXsTDZ...Tj2q 149556233 PSY Latest: 2026-01-14 14:21</text>
<rect class="nN" x="160" y="1524.77" width="40" height="1"/><text class="nl" x="206.4" y="1532.27" textLength="565.2" lengthAdjust="spacingAndGlyphs">Bh2hKF...f3xQ 221769559 PSY Latest: 2026-01-14 21:54</text>
<rect class="nW" x="160" y="1533.22" width="40" height="1.59"/><text class="nl" x="206.4" y="1541.02" textLength="906.14" lengthAdjust="spacingAndGlyphs">Dffgce...16Qk (Warning - Router/Market/Fees) 10039646578 PSY Latest: 2026-01-14 14:05</text>
<rect class="nN" x="160" y="1543.23" width="40" height="2.67"/><text class="nl" x="206.4" y="1551.57" textLength="594.33" lengthAdjust="spacingAndGlyphs">HFo6A6...7FjM 16843567679 PSY Latest: 2026-01-14 14:22</text>
<rect class="nW" x="160" y="1554.33" width="40" height="2.62"/><text class="nl" x="206.4" y="1562.64" textLength="920.12" lengthAdjust="spacingAndGlyphs">HJ9g5W...MYDz (Warning - Router/Market/Fees) 16529452384 PSY Latest: 2026-01-14 20:45</text>
<rect class="nN" x="160" y="1573.81" width="40" height="1"/><text class="nl" x="206.4" y="1581.31" textLength="568.56" lengthAdjust="spacingAndGlyphs">BtbyfY...LuXh 3381800035 PSY Latest: 2026-01-14 17:33</text>
<rect class="nW" x="160" y="1582.77" width="40" height="1"/><text class="nl" x="206.4" y="1590.27" textLength="906.67" lengthAdjust="spacingAndGlyphs">CTeN9z...22Wq (Warning - Router/Market/Fees) 4235924218 PSY Latest: 2026-01-14 15:04</text>
<rect class="nW" x="160" y="1600.29" width="40" height="1"/><text class="nl" x="206.4" y="1607.79" textLength="879.81" lengthAdjust="spacingAndGlyphs">CAJz33...QmUs (Warning - Router/Market/Fees) 90431881 PSY Latest: 2026-01-14 20:48</text>
<rect class="nN" x="160" y="1608.72" width="40" height="1"/><text class="nl" x="206.4" y="1616.22" textLength="565.03" lengthAdjust="spacingAndGlyphs">CjGAt3...1ueB 952510923 PSY Latest: 2026-01-14 20:55</text>
<rect class="nS" x="160" y="1617.29" width="40" height="1"/><text class="nl" x="206.4" y="1624.79" textLength="615.2" lengthAdjust="spacingAndGlyphs">CjFTMz...Mep7 (Sybil) 4317557 PSY Latest: 2026-01-14 21:33</text>
<rect class="nW" x="160" y="1625.72" width="40" height="1"/><text class="nl" x="206.4" y="1633.22" textLength="887.78" lengthAdjust="spacingAndGlyphs">CtFTA7...8ERQ (Warning - Router/Market/Fees) 134453210 PSY Latest: 2026-01-14 03:28</text>
<rect class="nN" x="160" y="1634.16" width="40" height="1"/><text class="nl" x="206.4" y="1641.66" textLength="599.41" lengthAdjust="spacingAndGlyphs">DaWBdM...vpAu 1608396706 PSY Latest: 2026-01-14 18:10</text>
<rect class="nN" x="160" y="1651.27" width="40" height="1"/><text class="nl" x="206.4" y="1658.77" textLength="572.22" lengthAdjust="spacingAndGlyphs">DrFmdY...Cq5n 453326033 PSY Latest: 2026-01-14 19:01</text>
<rect class="nN" x="160" y="1659.76" width="40" height="1"/><text class="nl" x="206.4" y="1667.26" textLength="572.78" lengthAdjust="spacingAndGlyphs">E5F4Ac...trSS 5385075738 PSY Latest: 2026-01-14 20:08</text>
<rect class="nW" x="160" y="1677.47" width="40" height="1"/><text class="nl" x="206.4" y="1684.97" textLength="866.5" lengthAdjust="spacingAndGlyphs">DtrNcz...s6dg (Warning - Router/Market/Fees) 10160746 PSY Latest: 2026-01-14 19:07</text>
<rect class="nN" x="160" y="1685.89" width="40" height="1"/><text class="nl" x="206.4" y="1693.39" textLength="567.81" lengthAdjust="spacingAndGlyphs">EGjYgp...Uxjf 1245126170 PSY Latest: 2026-01-14 15:27</text>
<rect class="nW" x="160" y="1694.5" width="40" height="1"/><text class="nl" x="206.4" y="1702" textLength="870.16" lengthAdjust="spacingAndGlyphs">FuCbLe...CHpj (Warning - Router/Market/Fees) 87513004 PSY Latest: 2026-01-14 18:43</text>
<rect class="nW" x="160" y="1702.92" width="40" height="1"/><text class="nl" x="206.4" y="1710.42" textLength="896.77" lengthAdjust="spacingAndGlyphs">GEpvDH...jCtL (Warning - Router/Market/Fees) 3638412846 PSY Latest: 2026-01-14 03:10</text>
<rect class="nR" x="160" y="1720.35" width="40" height="1"/><text class="nl" x="206.4" y="1727.85" textLength="910.23" lengthAdjust="spacingAndGlyphs">FMyGHy...RqTM (Router) 187027346 PSY (2x) avg 93513673 PSY Latest: 2026-01-14 15:29</text>
<rect class="nN" x="160" y="1728.8" width="40" height="1"/><text class="nl" x="206.4" y="1736.3" textLength="553.89" lengthAdjust="spacingAndGlyphs">FNTEdr...2yUe 25000000 PSY Latest: 2026-01-14 19:30</text>
<rect class="nN" x="160" y="1737.22" width="40" height="1"/><text class="nl" x="206.4" y="1744.72" textLength="582.45" lengthAdjust="spacingAndGlyphs">GqEvnN...ehfg 3393661971 PSY Latest: 2026-01-14 13:21</text>
<rect class="nN" x="160" y="1754.61" width="40" height="1"/><text class="nl" x="206.4" y="1762.11" textLength="561.19" lengthAdjust="spacingAndGlyphs">G88tjH...AYLe 129788502 PSY Latest: 2026-01-14 14:29</text>
<rect class="nN" x="160" y="1763.05" width="40" height="1"/><text class="nl" x="206.4" y="1770.55" textLength="551.8" lengthAdjust="spacingAndGlyphs">GfW34h...STej 97095155 PSY Latest: 2026-01-14 19:15</text>
<rect class="nS" x="160" y="1771.48" width="40" height="1"/><text class="nl" x="206.4" y="1778.98" textLength="908.47" lengthAdjust="spacingAndGlyphs">GrmffG...ydL8 (Sybil) 149800984 PSY (2x) avg 749004920.5 PSY Latest: 2026-01-14 20:12</text>
<rect class="nR" x="160" y="1780.14" width="40" height="1"/><text class="nl" x="206.4" y="1787.64" textLength="957.95" lengthAdjust="spacingAndGlyphs">JBvCY5...FdWn (Router) 4147109655 PSY (2x) avg 2073554827.5 PSY Latest: 2026-01-14 18:48</text>
<rect class="nW" x="160" y="1789.21" width="40" height="1"/><text class="nl" x="206.4" y="1796.71" textLength="1225.62" lengthAdjust="spacingAndGlyphs">Token Deployer on Ra NgP21M...7CTW (Warning - Token Deployer on Raydium) 4239321896 PSY Latest: 2026-01-14 21:53</text>
<rect class="nW" x="160" y="1806.73" width="40" height="1"/><text class="nl" x="206.4" y="1814.23" textLength="871.47" lengthAdjust="spacingAndGlyphs">HmroD2...Ajrx (Warning - Router/Market/Fees) 70708710 PSY Latest: 2026-01-14 17:52</text>
<rect class="nW" x="160" y="1815.15" width="40" height="1"/><text class="nl" x="206.4" y="1822.65" textLength="890.72" lengthAdjust="spacingAndGlyphs">JAmAmA...wh3Z (Warning - Router/Market/Fees) 96869728 PSY Latest: 2026-01-14 15:59</text>
<rect class="nW" x="160" y="1823.59" width="40" height="1"/><text class="nl" x="206.4" y="1831.09" textLength="857.55" lengthAdjust="spacingAndGlyphs">dmJ5Kb...jiW3 (Warning - Router/Market/Fees) 3850421 PSY Latest: 2026-01-14 16:21</text>
<rect class="nN" x="160" y="1832.01" width="40" height="1"/><text class="nl" x="206.4" y="1839.51" textLength="553.3" lengthAdjust="spacingAndGlyphs">nJZq1G...bdoz 44000000 PSY Latest: 2026-01-14 18:53</text>
<rect class="nS" x="160" y="1840.43" width="40" height="1"/><text class="nl" x="206.4" y="1847.93" textLength="646.88" lengthAdjust="spacingAndGlyphs">zbmg9d...c3Ud (Sybil) 427380727 PSY Latest: 2026-01-14 19:18</text>
</g>
<g id="annotation"><rect x="203" y="233" width="1364" height="34" style="fill:rgba(255,255,255,0.8);stroke:#e2e8f0;stroke-width:2"/><text x="205.8" y="258" style="font-size:24.8px;fill:#2d3748" textLength="1357.34" lengthAdjust="spacingAndGlyphs">Main: Router/Market/Fees  |  Blue: Router/Market | Light blue: Potential | Yellow: Warning | Red: Sybil | Pink: Spam</text></g>
<text x="120" y="99.6" style="font-size:28.8px;fill:#2a3f5f" textLength="462.44" lengthAdjust="spacingAndGlyphs">Cluster Funding Flow (TOKEN_IN)</text>
</svg>
</body></html>
